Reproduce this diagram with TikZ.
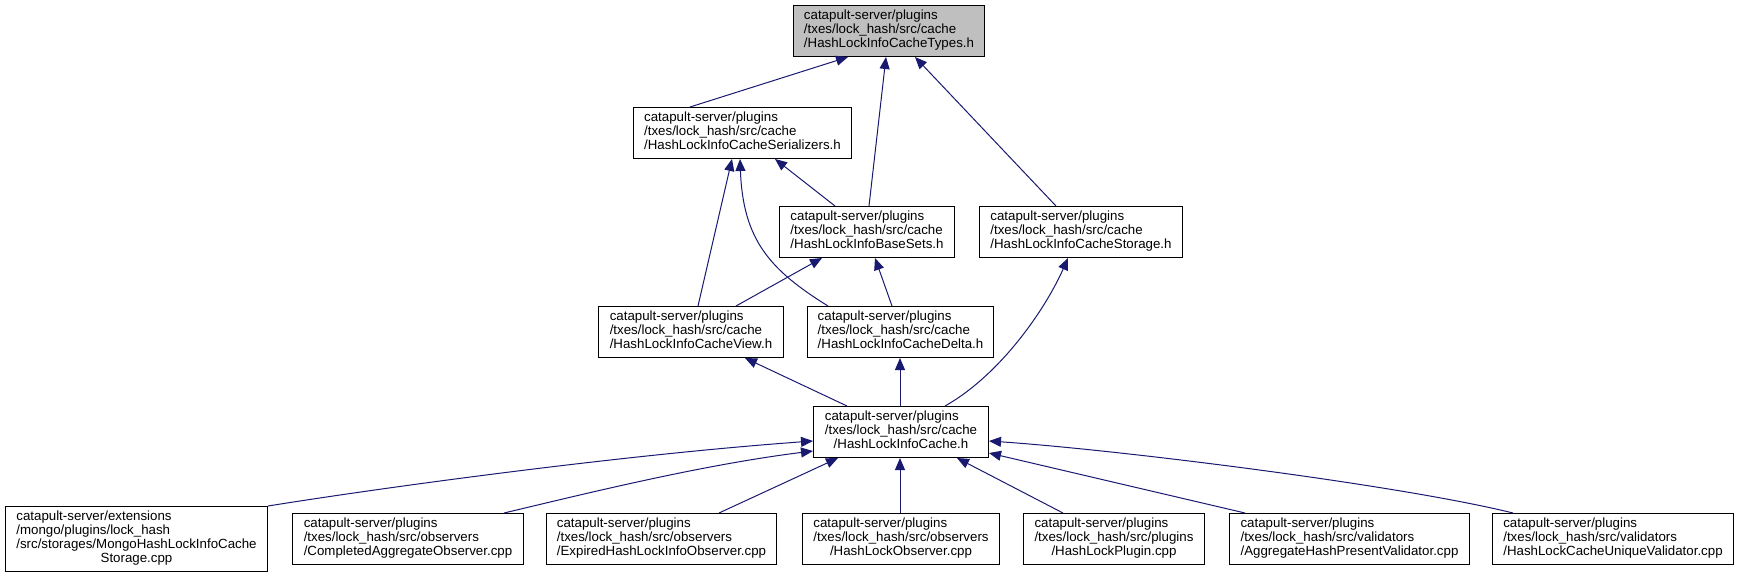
\documentclass[tikz,border=0pt]{standalone}
\usepackage{fontspec}
\setmainfont{Liberation Sans}
\usetikzlibrary{arrows.meta,calc}
\definecolor{edgecol}{HTML}{191970}
\definecolor{rootfill}{HTML}{BFBFBF}
\newcommand{\lblthree}[3]{\begin{tabular}{@{}l@{}}#1\\#2\\\multicolumn{1}{@{}c@{}}{#3}\end{tabular}}
\newcommand{\lblfour}[4]{\begin{tabular}{@{}l@{}}#1\\#2\\#3\\\multicolumn{1}{@{}c@{}}{#4}\end{tabular}}
\begin{document}
\begin{tikzpicture}[x=1pt,y=-1pt,
  box/.style={draw=black, line width=1pt, fill=white, inner sep=0pt, anchor=north west,
    minimum height=51pt, font=\fontsize{13.3}{14}\selectfont},
  dep/.style={draw=edgecol, line width=1pt, -{Triangle[length=12pt,width=10pt]}}]
\useasboundingbox (0,0) rectangle (1738,576);

% nodes
\node[box, fill=rootfill, minimum width=191pt] (types) at (793,5)
  {\lblthree{catapult-server/plugins}{/txes/lock\_hash/src/cache}{/HashLockInfoCacheTypes.h}};
\node[box, minimum width=218pt] (ser) at (633,107)
  {\lblthree{catapult-server/plugins}{/txes/lock\_hash/src/cache}{/HashLockInfoCacheSerializers.h}};
\node[box, minimum width=175pt] (bs) at (779,206)
  {\lblthree{catapult-server/plugins}{/txes/lock\_hash/src/cache}{/HashLockInfoBaseSets.h}};
\node[box, minimum width=203pt] (st) at (979,206)
  {\lblthree{catapult-server/plugins}{/txes/lock\_hash/src/cache}{/HashLockInfoCacheStorage.h}};
\node[box, minimum width=185pt] (view) at (598,306)
  {\lblthree{catapult-server/plugins}{/txes/lock\_hash/src/cache}{/HashLockInfoCacheView.h}};
\node[box, minimum width=186pt] (delta) at (807,306)
  {\lblthree{catapult-server/plugins}{/txes/lock\_hash/src/cache}{/HashLockInfoCacheDelta.h}};
\node[box, minimum width=175pt] (cache) at (813,406)
  {\lblthree{catapult-server/plugins}{/txes/lock\_hash/src/cache}{/HashLockInfoCache.h}};

\node[box, minimum width=262pt, minimum height=65pt] (mongo) at (5,506)
  {\lblfour{catapult-server/extensions}{/mongo/plugins/lock\_hash}{/src/storages/MongoHashLockInfoCache}{Storage.cpp}};
\node[box, minimum width=231pt] (comp) at (292,513)
  {\lblthree{catapult-server/plugins}{/txes/lock\_hash/src/observers}{/CompletedAggregateObserver.cpp}};
\node[box, minimum width=230pt] (exp) at (546,513)
  {\lblthree{catapult-server/plugins}{/txes/lock\_hash/src/observers}{/ExpiredHashLockInfoObserver.cpp}};
\node[box, minimum width=197pt] (obs) at (802,513)
  {\lblthree{catapult-server/plugins}{/txes/lock\_hash/src/observers}{/HashLockObserver.cpp}};
\node[box, minimum width=181pt] (plug) at (1023,513)
  {\lblthree{catapult-server/plugins}{/txes/lock\_hash/src/plugins}{/HashLockPlugin.cpp}};
\node[box, minimum width=240pt] (agg) at (1229,513)
  {\lblthree{catapult-server/plugins}{/txes/lock\_hash/src/validators}{/AggregateHashPresentValidator.cpp}};
\node[box, minimum width=241pt] (uniq) at (1492,513)
  {\lblthree{catapult-server/plugins}{/txes/lock\_hash/src/validators}{/HashLockCacheUniqueValidator.cpp}};

% edges (arrow points to the included header)
\draw[dep] ($(ser.north west)+(57,0)$) -- ($(types.south west)+(55,0)$);
\draw[dep] ($(bs.north west)+(90,0)$) -- ($(types.south west)+(93,0)$);
\draw[dep] ($(st.north west)+(77,0)$) -- ($(types.south west)+(122,0)$);

\draw[dep] ($(bs.north west)+(56,0)$) -- ($(ser.south west)+(142,0)$);
\draw[dep] ($(view.north west)+(100,0)$) -- ($(ser.south west)+(99,0)$);
\draw[dep] ($(delta.north west)+(21,0)$) .. controls (770,270) and (743,240) .. ($(ser.south west)+(107,0)$);

\draw[dep] ($(view.north west)+(138,0)$) -- ($(bs.south west)+(43,0)$);
\draw[dep] ($(delta.north west)+(85,0)$) -- ($(bs.south west)+(96,0)$);

\draw[dep] ($(cache.north west)+(132,0)$) .. controls (1000,375) and (1045,310) .. ($(st.south west)+(89,0)$);
\draw[dep] ($(cache.north west)+(34,0)$) -- ($(view.south west)+(147,0)$);
\draw[dep] ($(cache.north west)+(87,0)$) -- ($(delta.south west)+(93,0)$);

\draw[dep] (mongo.north east) .. controls (380,488) and (620,455) .. ($(cache.north west)+(0,35)$);
\draw[dep] ($(comp.north west)+(212,0)$) .. controls (580,495) and (700,465) .. ($(cache.north west)+(0,45)$);
\draw[dep] ($(exp.north west)+(173,0)$) -- ($(cache.south west)+(25,0)$);
\draw[dep] ($(obs.north west)+(98,0)$) -- ($(cache.south west)+(87,0)$);
\draw[dep] ($(plug.north west)+(40,0)$) -- ($(cache.south west)+(144,0)$);
\draw[dep] ($(agg.north west)+(16,0)$) -- ($(cache.north east)+(0,47)$);
\draw[dep] ($(uniq.north west)+(21,0)$) .. controls (1400,485) and (1120,450) .. ($(cache.north east)+(0,35)$);
\end{tikzpicture}
\end{document}
